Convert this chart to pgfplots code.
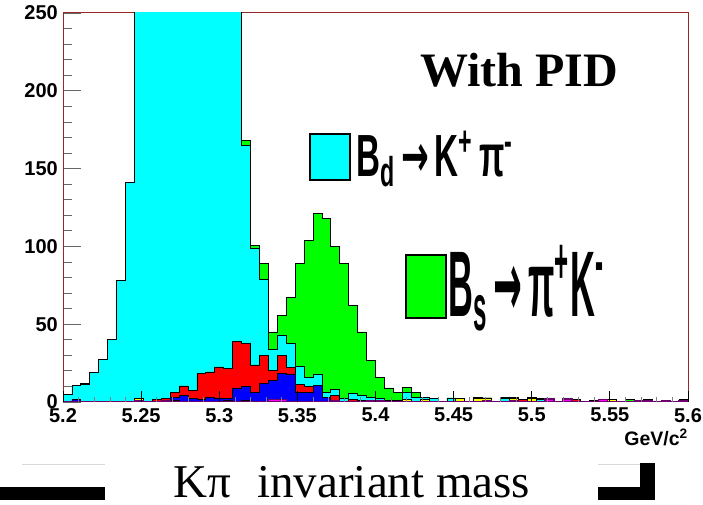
\documentclass[border=0pt]{standalone}
\usepackage{pgfplots}
\pgfplotsset{compat=1.18}
\usepackage{pgfplotstable}
\usepackage{graphicx}
\usepackage{fontspec}
\setmainfont{Liberation Serif}
\setsansfont{Liberation Sans}
\newfontfamily\dejavu{DejaVu Sans}
\definecolor{frame}{RGB}{150,40,40}
\definecolor{mpurple}{RGB}{110,0,110}
\definecolor{hcyan}{RGB}{0,255,255}
\definecolor{hgreen}{RGB}{0,255,0}
\definecolor{hred}{RGB}{255,0,0}
\definecolor{hblue}{RGB}{0,0,255}
\definecolor{hyellow}{RGB}{255,255,0}
\definecolor{hmagenta}{RGB}{255,0,255}

\pgfplotstableread{
x        M    Y    B    R    C     G
5.20000  0    0    0    0    5     0
5.20571  0    0    1.5  0    9     0
5.21143  0    0    0    0    11.5  0.5
5.21714  0    0    0    0    19    0
5.22286  0    0    0    0    27.5  0
5.22857  0    0    0    0    40    0
5.23429  0    0    0    0    78    0
5.24000  0    0    0    0    141   0
5.24571  1    1    0    0    268   0
5.25143  0    0    0    0    330   0
5.25714  0    0    0    1.5  400   0
5.26286  1    0    0    1.5  460   0
5.26857  0    1    1.8  3.6  500   0
5.27429  0    0    4    6.3  510   0
5.28000  0    0    2    5.5  490   0
5.28571  0    0    1.5  17   450   0
5.29143  0    0    3    16.3 400   0
5.29714  0    0    2    20.5 350   0
5.30286  0    1    1    19.5 300   0
5.30857  0    0    9    30   260   0
5.31429  0    1    9    27.5 127.5 3
5.32000  0    0    6    17.8 75.2  1.5
5.32571  0    0    12   18   49    10
5.33143  1.5  0    12.5 6    14    11
5.33714  1.5  0    16.7 11.6 13.3  12.7
5.34286  0    0    18   4    15.5  29.5
5.34857  0    0    6    5.5  11.5  66
5.35429  0    0    6    4    6     88
5.36000  0    0    10.5 0    7     103.5
5.36571  0    0    2.8  0    3.6   111.6
5.37143  1    0    0    3    4     92
5.37714  0    0    0    0    2     87
5.38286  0.5  0    0    1    4     56.5
5.38857  0    0    1    0    3.3   40.7
5.39429  1    0    0    0    2     23.5
5.40000  1    0    0    0    1     13.5
5.40571  0    0    0    0    1     8
5.41143  0    0    0    0    1     5
5.41714  0.5  1    0    0    4.5   3.2
5.42286  0    0    0    0    2.8   3.6
5.42857  0.5  1    0    0    1.3   0
5.43429  0    0    0    0    2.1   0
5.44000  0.5  0    0    0    0     0
5.44571  0    0    0    0    2.6   0
5.45143  0    2.1  0    0    0     0
5.45714  0.5  0    0    0    0     0
5.46286  0.5  1.5  0    0    0     1
5.46857  0.6  2    0    0    0     0
5.47429  0.5  0    0    0    0     0
5.48000  0    0    0    0    2     1.2
5.48571  1    1.5  0    0    0     0.7
5.49143  0    0    0    1.5  0     0
5.49714  0.5  1.5  0    0    1.2   0
5.50286  0    0    0    0    1.5   0.5
5.50857  2    0    0    0    0     0.6
5.51429  0    0    0    0    0     0
5.52000  1.8  0    0    0    0     0.8
5.52571  0.5  0    0    1.2  0     0
5.53143  0    0    0    0    0     0.3
5.53714  0.5  0    0    0    0     0.5
5.54286  1.7  0    0    0    0     0
5.54857  0.5  1.2  0    0    0     0
5.55429  0    0    0    0    0     0
5.56000  0    0    0    0    0     1.7
5.56571  0.8  0    0    0    0     0
5.57143  0.8  0    0    0    0     0.9
5.57714  0    0    0    0    0     0.3
5.58286  0.6  0    0    0    0     0
5.58857  0    0    0    0    0     0.3
5.59429  0.7  1    0    0    0     0
5.60000  0.7  1    0    0    0     0
}\histdata

\begin{document}
\begin{tikzpicture}[x=1pt,y=1pt]
\path[use as bounding box] (0,0) rectangle (703,505);
% data axis with y ticks
\begin{axis}[
  at={(63pt,103pt)}, anchor=south west,
  scale only axis, width=625pt, height=389pt,
  xmin=5.2, xmax=5.6, ymin=0, ymax=250,
  stack plots=y,
  axis line style={draw=frame, line width=1pt},
  xtick=\empty,
  ytick={0,50,100,150,200,250},
  yticklabels={0,50,100,150,200,250},
  minor y tick num=4,
  tick align=inside, ytick pos=left,
  major tick length=18pt, minor tick length=9pt,
  tick style={draw=black!60, line width=0.8pt},
  yticklabel style={font=\fontsize{20}{22}\selectfont\bfseries\sffamily, inner xsep=0pt, xshift=-5pt},
  /pgf/number format/assume math mode=true,
]
\addplot[const plot, fill=hmagenta, draw=mpurple, line width=1.4pt] table[x=x,y=M]{\histdata} \closedcycle;
\addplot[const plot, fill=hyellow, draw=black, line width=0.8pt] table[x=x,y=Y]{\histdata} \closedcycle;
\addplot[const plot, fill=hblue, draw=black, line width=0.8pt] table[x=x,y=B]{\histdata} \closedcycle;
\addplot[const plot, fill=hred, draw=black, line width=0.8pt] table[x=x,y=R]{\histdata} \closedcycle;
\addplot[const plot, fill=hcyan, draw=black, line width=0.8pt] table[x=x,y=C]{\histdata} \closedcycle;
\addplot[const plot, fill=hgreen, draw=black, line width=0.8pt] table[x=x,y=G]{\histdata} \closedcycle;
\end{axis}
% x ticks axis
\begin{axis}[
  at={(63pt,103pt)}, anchor=south west,
  scale only axis, width=625pt, height=389pt,
  xmin=5.2, xmax=5.6, ymin=0, ymax=250,
  axis line style={draw=none},
  ytick=\empty,
  xtick={5.2,5.25,5.3,5.35,5.4,5.45,5.5,5.55,5.6},
  xticklabels={5.2,5.25,5.3,5.35,5.4,5.45,5.5,5.55,5.6},
  minor x tick num=4,
  tick align=inside, xtick pos=left,
  major tick length=11pt, minor tick length=5pt,
  major tick style={draw=black, line width=0.8pt},
  minor tick style={draw=black!50, line width=0.6pt},
  xticklabel style={font=\fontsize{20}{22}\selectfont\bfseries\sffamily, inner ysep=0pt, yshift=-6pt},
  /pgf/number format/assume math mode=true,
]
\end{axis}
% annotations
\node[anchor=base west, inner sep=0pt, font=\fontsize{48}{50}\selectfont\bfseries] at (420,418) {With PID};
\fill[hcyan, draw=black, line width=1.2pt] (310,325) rectangle (350,371);
\node[anchor=base west, inner sep=0pt] at (356,328) {\resizebox{158pt}{46pt}{\sffamily\bfseries B\textsubscript{d}\,{\dejavu\bfseries →}\,K\textsuperscript{+}\,π\textsuperscript{-}}};
\fill[hgreen, draw=black, line width=1.2pt] (406,187) rectangle (446,250);
\node[anchor=base west, inner sep=0pt] at (448,188) {\resizebox{157pt}{72pt}{\sffamily\bfseries B\textsubscript{s}\,{\dejavu\bfseries →}\,π\textsuperscript{+}K\textsuperscript{-}}};
\node[anchor=base east, inner sep=0pt, font=\fontsize{19.5}{21}\selectfont\bfseries\sffamily] at (688,59) {GeV/c\textsuperscript{2}};
\node[anchor=base, inner sep=0pt, font=\fontsize{47}{50}\selectfont] at (352,7) {Kπ\hspace{0.55em}invariant mass};
\fill[black] (0,5) rectangle (105,18);
\fill[black] (598,5) rectangle (655,18);
\fill[black] (640,5) rectangle (655,42);
\draw[black!15, line width=0.8pt] (22,41) -- (105,41);
\draw[black!15, line width=0.8pt] (598,41) -- (640,41);
\end{tikzpicture}
\end{document}
